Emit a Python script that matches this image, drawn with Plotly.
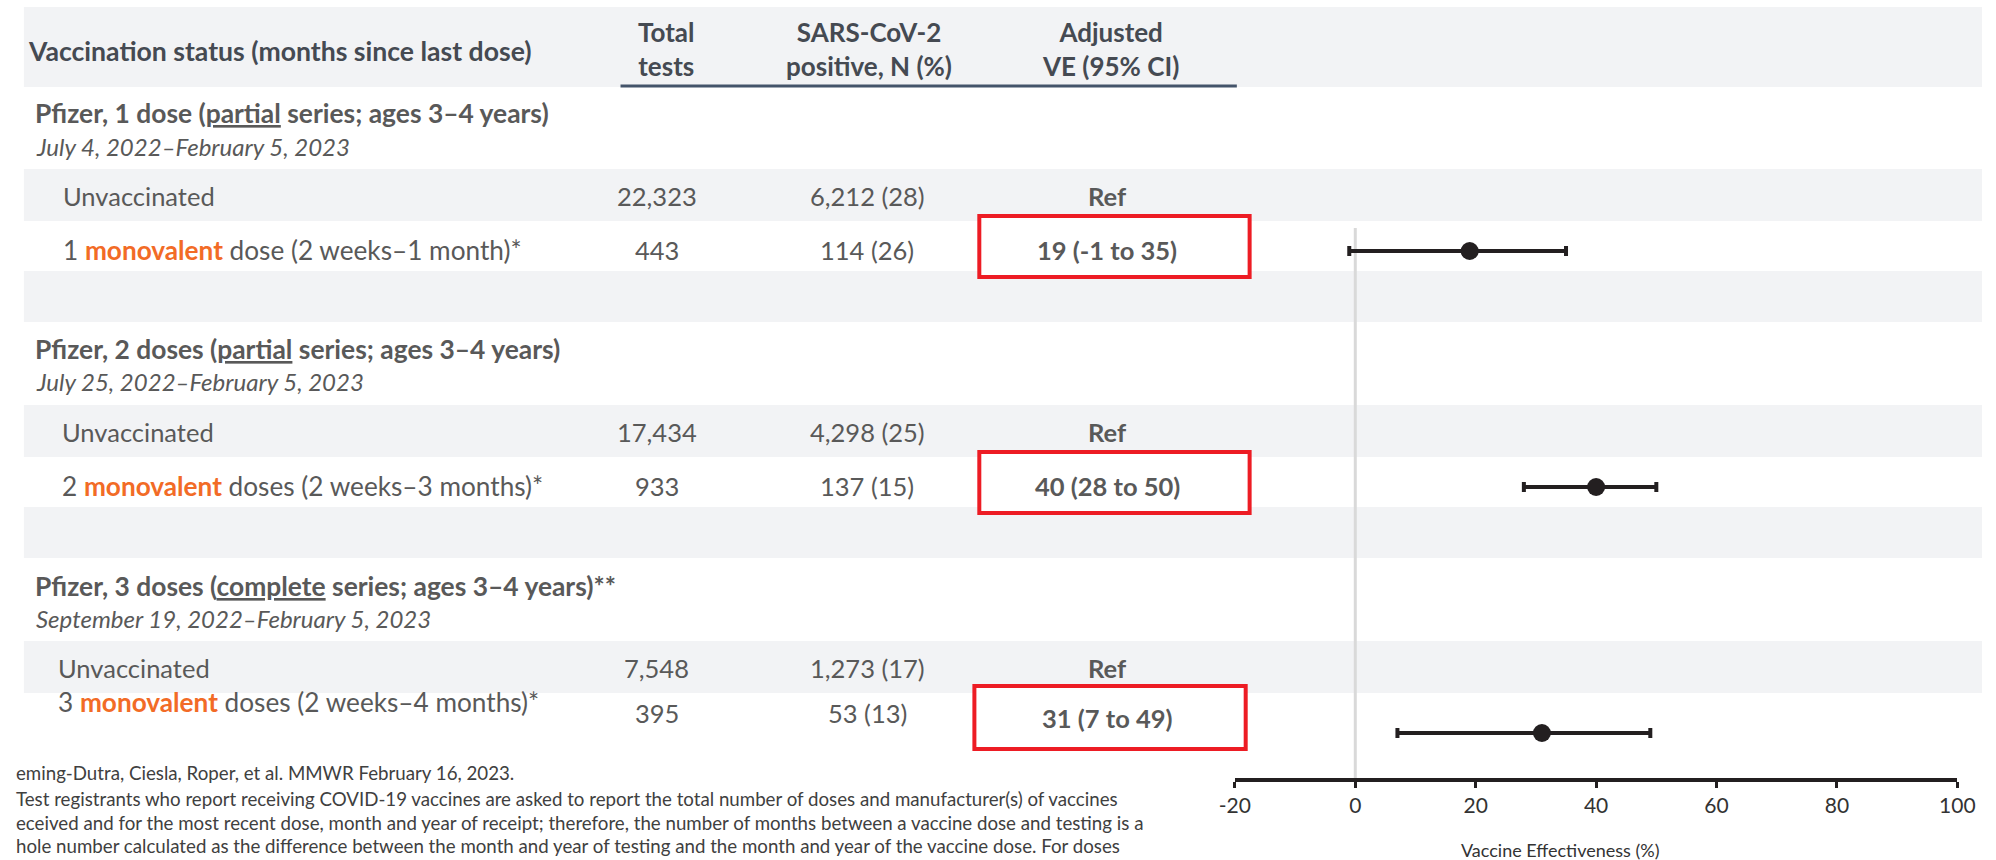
import plotly.graph_objects as go

W, H = 1996, 860

# ---------------- data ----------------
group_titles = [
    "Pfizer, 1 dose (<u>partial</u> series; ages 3–4 years)",
    "Pfizer, 2 doses (<u>partial</u> series; ages 3–4 years)",
    "Pfizer, 3 doses (<u>complete</u> series; ages 3–4 years)**",
]
date_ranges = [
    "July 4, 2022–February 5, 2023",
    "July 25, 2022–February 5, 2023",
    "September 19, 2022–February 5, 2023",
]
ref_label = "Unvaccinated"
dose_counts = [1, 2, 3]
dose_words = ["dose", "doses", "doses"]
dose_intervals = ["2 weeks–1 month", "2 weeks–3 months", "2 weeks–4 months"]
unvax_tests = [22323, 17434, 7548]
unvax_pos = [6212, 4298, 1273]
unvax_pct = [28, 25, 17]
vax_tests = [443, 933, 395]
vax_pos = [114, 137, 53]
vax_pct = [26, 15, 13]
ve = [19, 40, 31]
ve_lo = [-1, 28, 7]
ve_hi = [35, 50, 49]
x_ticks = [-20, 0, 20, 40, 60, 80, 100]
x_tick_labels = ["-20", "0", "20", "40", "60", "80", "100"]
col_headers = ["Total<br>tests", "SARS-CoV-2<br>positive, N (%)", "Adjusted<br>VE (95% CI)"]
row_header = "Vaccination status (months since last dose)"
axis_title = "Vaccine Effectiveness (%)"
footnotes = [
    "eming-Dutra, Ciesla, Roper, et al. MMWR February 16, 2023.",
    "Test registrants who report receiving COVID-19 vaccines are asked to report the total number of doses and manufacturer(s) of vaccines",
    "eceived and for the most recent dose, month and year of receipt; therefore, the number of months between a vaccine dose and testing is a",
    "hole number calculated as the difference between the month and year of testing and the month and year of the vaccine dose. For doses",
]

# ---------------- layout constants (page pixels) ----------------
FONT = "Lato"
TXT = "#595959"
HDR = "#454A52"
ORANGE = "#F26B26"
RED = "#ED1C24"
BAND = "#F2F3F5"
INK = "#231F20"

band_top = [169, 405, 641]
band_h = 52
title_y = [113, 349, 586]
date_y = [146, 382, 618]
unvax_y = [196, 432, 668]
vax_label_y = [250, 486, 702]
vax_num_y = [250, 486, 713]
ve_text_y = [250, 486, 718]
point_y = [251, 487, 733]
box_y = [(216, 277), (452, 513), (686, 749)]
box_x = [(980, 1255), (980, 1255), (975, 1251)]
label_x = [48, 47, 43]
empty_band = [(271, 322), (507, 558)]
col_x = [652, 866, 1110]
hdr_col_x = [661, 868, 1113]
AX_Y = 778
AX_X0, AX_X1 = 1240, 1975


def px(x):
    return x / W


def py(y):
    return 1 - y / H


fig = go.Figure()

fig.add_trace(go.Scatter(
    x=ve, y=point_y, mode="markers",
    marker=dict(size=18, color=INK),
    error_x=dict(type="data", symmetric=False,
                 array=[h - v for h, v in zip(ve_hi, ve)],
                 arrayminus=[v - l for v, l in zip(ve, ve_lo)],
                 color=INK, thickness=4, width=5),
    hoverinfo="skip", showlegend=False,
))

shapes = []
# header band
shapes.append(dict(type="rect", xref="paper", yref="paper", x0=px(8), x1=px(W + 4), y0=py(7), y1=py(87),
                   fillcolor=BAND, line=dict(width=0), layer="below"))
for b in band_top:
    shapes.append(dict(type="rect", xref="paper", yref="paper", x0=px(8), x1=px(W + 4), y0=py(b),
                       y1=py(b + band_h), fillcolor=BAND, line=dict(width=0), layer="below"))
for (a, b) in empty_band:
    shapes.append(dict(type="rect", xref="paper", yref="paper", x0=px(8), x1=px(W + 4), y0=py(a), y1=py(b),
                       fillcolor=BAND, line=dict(width=0), layer="below"))
# header underline
shapes.append(dict(type="line", xref="paper", yref="paper", x0=px(615), x1=px(1242), y0=py(86), y1=py(86),
                   line=dict(color="#44546A", width=3)))
# reference line at 0
shapes.append(dict(type="line", xref="x", yref="paper", x0=0, x1=0, y0=py(228), y1=py(AX_Y),
                   line=dict(color="#D9D9D9", width=3), layer="below"))
# red boxes
for (x0, x1), (y0, y1) in zip(box_x, box_y):
    shapes.append(dict(type="rect", xref="paper", yref="paper", x0=px(x0), x1=px(x1), y0=py(y0), y1=py(y1),
                       fillcolor="white", line=dict(color=RED, width=4), layer="below"))

ann = []


def add_text(text, x, y, size, color=TXT, xanchor="left", bold=False, italic=False):
    t = text
    if bold:
        t = "<b>" + t + "</b>"
    if italic:
        t = "<i>" + t + "</i>"
    ann.append(dict(text=t, x=px(x), y=py(y), xref="paper", yref="paper", xanchor=xanchor, yanchor="middle",
                    showarrow=False, font=dict(family=FONT, size=size, color=color), align="center",
                    borderpad=0, borderwidth=0))


# headers
add_text(row_header, 12, 51, 26.6, HDR, bold=True)
for h, x in zip(col_headers, hdr_col_x):
    add_text(h, x, 49, 26, HDR, xanchor="center", bold=True)

for i in range(3):
    add_text(group_titles[i], 19, title_y[i], 26.4, TXT, bold=True)
    add_text(date_ranges[i], 20, date_y[i], 24, TXT, italic=True)
    add_text(ref_label, label_x[i], unvax_y[i], 25.5, TXT)
    add_text(f"{unvax_tests[i]:,}", col_x[0], unvax_y[i], 25.5, TXT, xanchor="center")
    add_text(f"{unvax_pos[i]:,} ({unvax_pct[i]})", col_x[1], unvax_y[i], 25.5, TXT, xanchor="center")
    add_text("Ref", col_x[2], unvax_y[i], 25.5, TXT, xanchor="center", bold=True)
    lbl = (f"{dose_counts[i]} <span style='color:{ORANGE}'><b>monovalent</b></span> "
           f"{dose_words[i]} ({dose_intervals[i]})*")
    add_text(lbl, label_x[i], vax_label_y[i], 26.2, TXT)
    add_text(f"{vax_tests[i]:,}", col_x[0], vax_num_y[i], 25.5, TXT, xanchor="center")
    add_text(f"{vax_pos[i]:,} ({vax_pct[i]})", col_x[1], vax_num_y[i], 25.5, TXT, xanchor="center")
    add_text(f"{ve[i]} ({ve_lo[i]} to {ve_hi[i]})", col_x[2], ve_text_y[i], 25.5, TXT, xanchor="center", bold=True)

foot_y = [773, 799, 823, 846]
for t, y in zip(footnotes, foot_y):
    add_text(t, 0, y, 18.7, "#404040")

add_text(axis_title, 1571, 850, 18, "#333333", xanchor="center")

fig.update_layout(
    width=W, height=H, margin=dict(l=0, r=0, t=0, b=0),
    paper_bgcolor="white", plot_bgcolor="rgba(0,0,0,0)",
    shapes=shapes, annotations=ann, showlegend=False,
    xaxis=dict(domain=[px(AX_X0), px(AX_X1)], range=[-20, 100],
               tickmode="array", tickvals=x_ticks, ticktext=x_tick_labels,
               ticks="outside", ticklen=6, tickwidth=3, tickcolor=INK,
               showline=True, linecolor=INK, linewidth=4, showgrid=False, zeroline=False,
               ticklabeloverflow="allow",
               tickfont=dict(family=FONT, size=21, color="#333333"), fixedrange=True),
    yaxis=dict(domain=[py(AX_Y), 1], range=[AX_Y, 0], visible=False, fixedrange=True),
)

# the page body has a default 8px margin; remove it so the figure fills the 1996x860 window
post = "document.body.style.margin='0';document.body.style.overflow='hidden';"
fig.write_html("out.html", config={"displayModeBar": False}, post_script=post)
